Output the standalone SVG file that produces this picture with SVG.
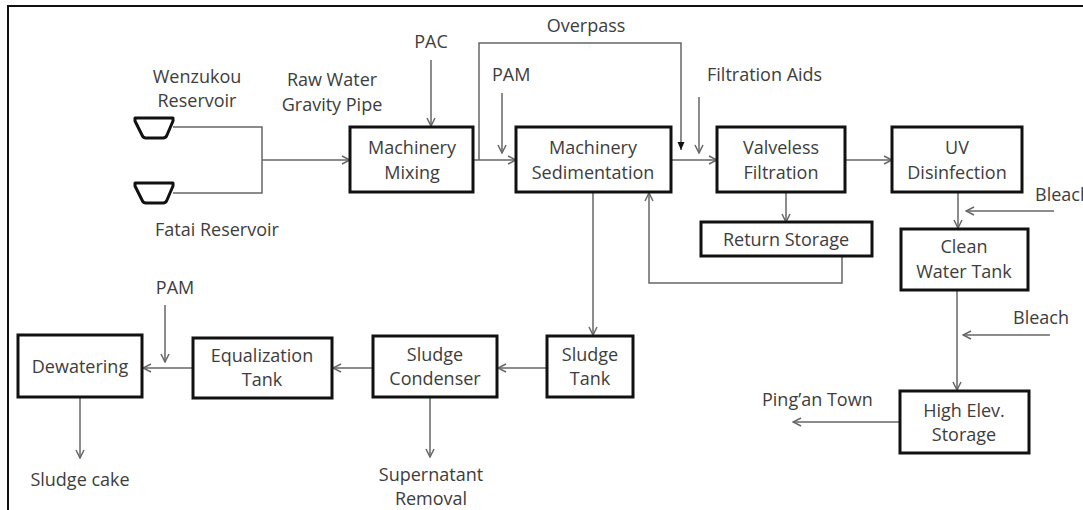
<svg xmlns="http://www.w3.org/2000/svg" width="1083" height="510" viewBox="0 0 1083 510">
<defs>
<style>
.box{fill:#fff;stroke:#111;stroke-width:3}
.t{font-family:"Open Sans","Liberation Sans",sans-serif;font-size:18px;fill:#3d3d3d;text-anchor:middle}
.s{text-anchor:start}
.c{fill:none;stroke:#666;stroke-width:1.5}
.a{marker-end:url(#arr)}
.res{fill:#fff;stroke:#111;stroke-width:3;stroke-linejoin:round}
</style>
<marker id="arr" viewBox="0 0 10 10" refX="9" refY="5" markerWidth="10" markerHeight="10" markerUnits="userSpaceOnUse" orient="auto">
<path d="M1,1 L9,5 L1,9" fill="none" stroke="#666" stroke-width="1.5"/>
</marker>
<marker id="farr" viewBox="0 0 8 8" refX="8" refY="4" markerWidth="8" markerHeight="8" markerUnits="userSpaceOnUse" orient="auto">
<path d="M0,0.5 L8,4 L0,7.5 Z" fill="#111"/>
</marker>
</defs>
<rect x="8" y="6" width="1100" height="520" fill="#fff" stroke="#111" stroke-width="2"/>

<g id="connectors">
<polyline class="c" points="173,127 262,127 262,193 173,193"/>
<line class="c a" x1="262" y1="160" x2="350" y2="160"/>
<line class="c a" x1="431" y1="60" x2="431" y2="126"/>
<line class="c a" x1="473" y1="160" x2="516" y2="160"/>
<polyline class="c" points="479,160 479,43 681,43 681,150" marker-end="url(#farr)"/>
<line class="c a" x1="502" y1="93" x2="502" y2="153"/>
<line class="c a" x1="671" y1="160" x2="717" y2="160"/>
<line class="c a" x1="699" y1="97" x2="699" y2="153"/>
<line class="c a" x1="845" y1="160" x2="892" y2="160"/>
<line class="c a" x1="786" y1="192" x2="786" y2="222"/>
<polyline class="c a" points="842,256 842,283 649,283 649,193"/>
<line class="c a" x1="958" y1="192" x2="958" y2="228"/>
<line class="c a" x1="1054" y1="211" x2="966" y2="211"/>
<line class="c a" x1="957" y1="290" x2="957" y2="390"/>
<line class="c a" x1="1050" y1="335" x2="963" y2="335"/>
<line class="c a" x1="900" y1="422" x2="793" y2="422"/>
<line class="c a" x1="593" y1="192" x2="593" y2="335"/>
<line class="c a" x1="547" y1="368" x2="498" y2="368"/>
<line class="c a" x1="373" y1="368" x2="333" y2="368"/>
<line class="c a" x1="193" y1="368" x2="143" y2="368"/>
<line class="c a" x1="165" y1="305" x2="165" y2="362"/>
<line class="c a" x1="80" y1="397" x2="80" y2="458"/>
<line class="c a" x1="430" y1="397" x2="430" y2="457"/>
</g>

<g id="wenzukou">
<path class="res" d="M135,118 L173,118 L173,121 L167,135 Q166,138 163,138 L146,138 Q143,138 142,135 L135,121 Z"/>
<text class="t" x="197" y="83">Wenzukou</text>
<text class="t" x="197" y="107">Reservoir</text>
</g>
<g id="fatai">
<path class="res" d="M135,183 L173,183 L173,186 L167,200 Q166,203 163,203 L146,203 Q143,203 142,200 L135,186 Z"/>
<text class="t s" x="155" y="236">Fatai Reservoir</text>
</g>
<g id="raw-water-label"><text class="t" x="332" y="86">Raw Water</text><text class="t" x="332" y="111">Gravity Pipe</text></g>
<g id="pac"><text class="t" x="431" y="48">PAC</text></g>
<g id="overpass"><text class="t" x="586" y="32">Overpass</text></g>
<g id="pam1"><text class="t s" x="492" y="81">PAM</text></g>
<g id="filtration-aids"><text class="t s" x="707" y="81">Filtration Aids</text></g>
<g id="bleach1"><text class="t s" x="1035" y="201">Bleach</text></g>
<g id="bleach2"><text class="t s" x="1013" y="324">Bleach</text></g>
<g id="pingan"><text class="t s" x="762" y="406">Ping’an Town</text></g>
<g id="pam2"><text class="t" x="175" y="294">PAM</text></g>
<g id="sludge-cake"><text class="t" x="80" y="486">Sludge cake</text></g>
<g id="supernatant"><text class="t" x="431" y="481">Supernatant</text><text class="t" x="431" y="505">Removal</text></g>

<g id="mixing"><rect class="box" x="350" y="127" width="123" height="65"/><text class="t" x="412" y="154">Machinery</text><text class="t" x="412" y="179">Mixing</text></g>
<g id="sedimentation"><rect class="box" x="516" y="127" width="155" height="65"/><text class="t" x="593" y="154">Machinery</text><text class="t" x="593" y="179">Sedimentation</text></g>
<g id="valveless"><rect class="box" x="717" y="127" width="128" height="65"/><text class="t" x="781" y="154">Valveless</text><text class="t" x="781" y="179">Filtration</text></g>
<g id="uv"><rect class="box" x="892" y="127" width="130" height="65"/><text class="t" x="957" y="154">UV</text><text class="t" x="957" y="179">Disinfection</text></g>
<g id="return-storage"><rect class="box" x="701" y="222" width="171" height="34"/><text class="t" x="786" y="246">Return Storage</text></g>
<g id="clean-water"><rect class="box" x="901" y="229" width="127" height="61"/><text class="t" x="964" y="253">Clean</text><text class="t" x="964" y="278">Water Tank</text></g>
<g id="high-elev"><rect class="box" x="900" y="391" width="129" height="62"/><text class="t" x="964" y="417">High Elev.</text><text class="t" x="964" y="441">Storage</text></g>
<g id="sludge-tank"><rect class="box" x="547" y="336" width="86" height="61"/><text class="t" x="590" y="361">Sludge</text><text class="t" x="590" y="385">Tank</text></g>
<g id="condenser"><rect class="box" x="373" y="336" width="124" height="61"/><text class="t" x="435" y="361">Sludge</text><text class="t" x="435" y="385">Condenser</text></g>
<g id="equalization"><rect class="box" x="193" y="338" width="139" height="60"/><text class="t" x="262" y="362">Equalization</text><text class="t" x="262" y="386">Tank</text></g>
<g id="dewatering"><rect class="box" x="18" y="335" width="124" height="62"/><text class="t" x="80" y="373">Dewatering</text></g>
</svg>
